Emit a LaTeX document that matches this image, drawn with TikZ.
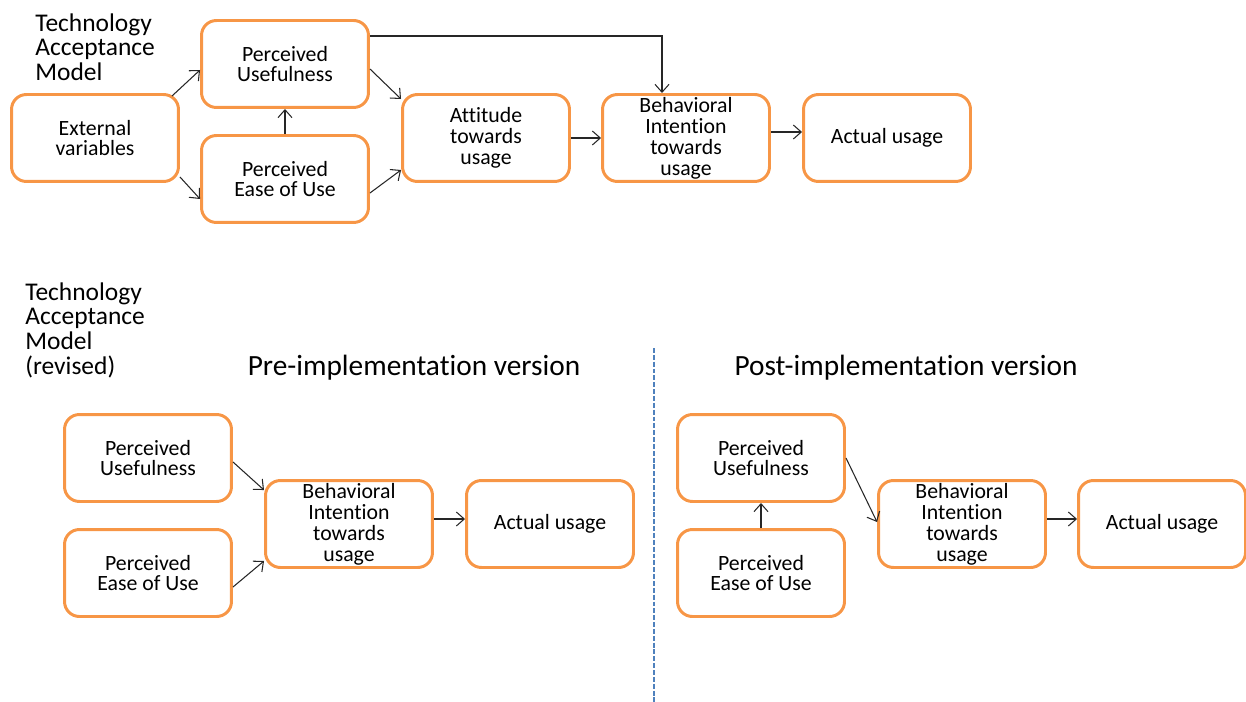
\documentclass[tikz,border=0pt]{standalone}
\usepackage{fontspec}
\setmainfont[Ligatures={NoCommon,NoContextual},RawFeature={-liga;-clig;-calt;-dlig}]{Carlito}
\usetikzlibrary{arrows.meta}
\definecolor{boxorange}{HTML}{F79646}
\definecolor{lineblue}{HTML}{4F81BD}
\tikzset{
  tambox/.style={draw=boxorange, line width=1.7pt, rounded corners=8.5pt, minimum width=3.34cm, minimum height=1.74cm, align=center, inner sep=1pt, font=\fontsize{12.4}{11.9}\selectfont},
  tamarrow/.style={-{Straight Barb[length=4.5pt,width=8pt]}, line width=0.6pt, black!85},
  tamtitle/.style={anchor=north west, align=left, inner sep=0pt, font=\fontsize{14.5}{14.2}\selectfont},
  tamhead/.style={anchor=base, inner sep=0pt, font=\fontsize{16.7}{20}\selectfont}
}

\begin{document}
\begin{tikzpicture}[x=0.02cm,y=-0.02cm]
\useasboundingbox (0,0) rectangle (1246,702);

\node[tamtitle] (tam) at (35,13) {Technology\\Acceptance\\Model};
\node[tambox] (ext) at (95,138) {External\\variables};
\node[tambox] (pu) at (285,64) {Perceived\\Usefulness};
\node[tambox] (peou) at (285,179) {Perceived\\Ease of Use};
\node[tambox] (att) at (486,138) {Attitude\\towards\\usage};
\node[tambox] (bi) at (686,138) {Behavioral\\Intention\\towards\\usage};
\node[tambox] (act) at (887,138) {Actual usage};

\draw[tamarrow] ([shift={(-8,3)}]ext.north east) -- ([shift={(0,6)}]pu.west);
\draw[tamarrow] ([shift={(0,-6)}]ext.south east) -- ([shift={(0,20)}]peou.west);
\draw[tamarrow] (peou.north) -- (pu.south);
\draw[tamarrow] ([shift={(0,5)}]pu.east) -- ([shift={(0,6)}]att.north west);
\draw[tamarrow] ([shift={(0,14)}]peou.east) -- ([shift={(0,-13)}]att.south west);
\draw[tamarrow] ([shift={(0,-28)}]pu.east) -| ([shift={(-24,0)}]bi.north);
\draw[tamarrow] (att.east) -- (bi.west);
\draw[tamarrow] ([shift={(0,-6)}]bi.east) -- ([shift={(0,-6)}]act.west);

\node[tamtitle] (tamrev) at (25,282) {Technology\\Acceptance\\Model\\(revised)};
\node[tamhead] (pre) at (414,375) {Pre-implementation version};
\node[tamhead] (post) at (906,375) {Post-implementation version};
\draw[lineblue, line width=1.3pt, dash pattern=on 2.8pt off 1.1pt] (654,348) -- (654,702);

\node[tambox] (pupre) at (148,458) {Perceived\\Usefulness};
\node[tambox] (peoupre) at (148,573) {Perceived\\Ease of Use};
\node[tambox] (bipre) at (349,524) {Behavioral\\Intention\\towards\\usage};
\node[tambox] (actpre) at (550,524) {Actual usage};

\draw[tamarrow] ([shift={(0,4)}]pupre.east) -- ([shift={(0,11)}]bipre.north west);
\draw[tamarrow] ([shift={(0,14)}]peoupre.east) -- ([shift={(0,-8)}]bipre.south west);
\draw[tamarrow] ([shift={(0,-5)}]bipre.east) -- ([shift={(0,-5)}]actpre.west);

\node[tambox] (pupost) at (761,458) {Perceived\\Usefulness};
\node[tambox] (peoupost) at (761,573) {Perceived\\Ease of Use};
\node[tambox] (bipost) at (962,524) {Behavioral\\Intention\\towards\\usage};
\node[tambox] (actpost) at (1162,524) {Actual usage};

\draw[tamarrow] (pupost.east) -- ([shift={(0,-2)}]bipost.west);
\draw[tamarrow] (peoupost.north) -- (pupost.south);
\draw[tamarrow] ([shift={(0,-5)}]bipost.east) -- ([shift={(0,-5)}]actpost.west);
\end{tikzpicture}
\end{document}
